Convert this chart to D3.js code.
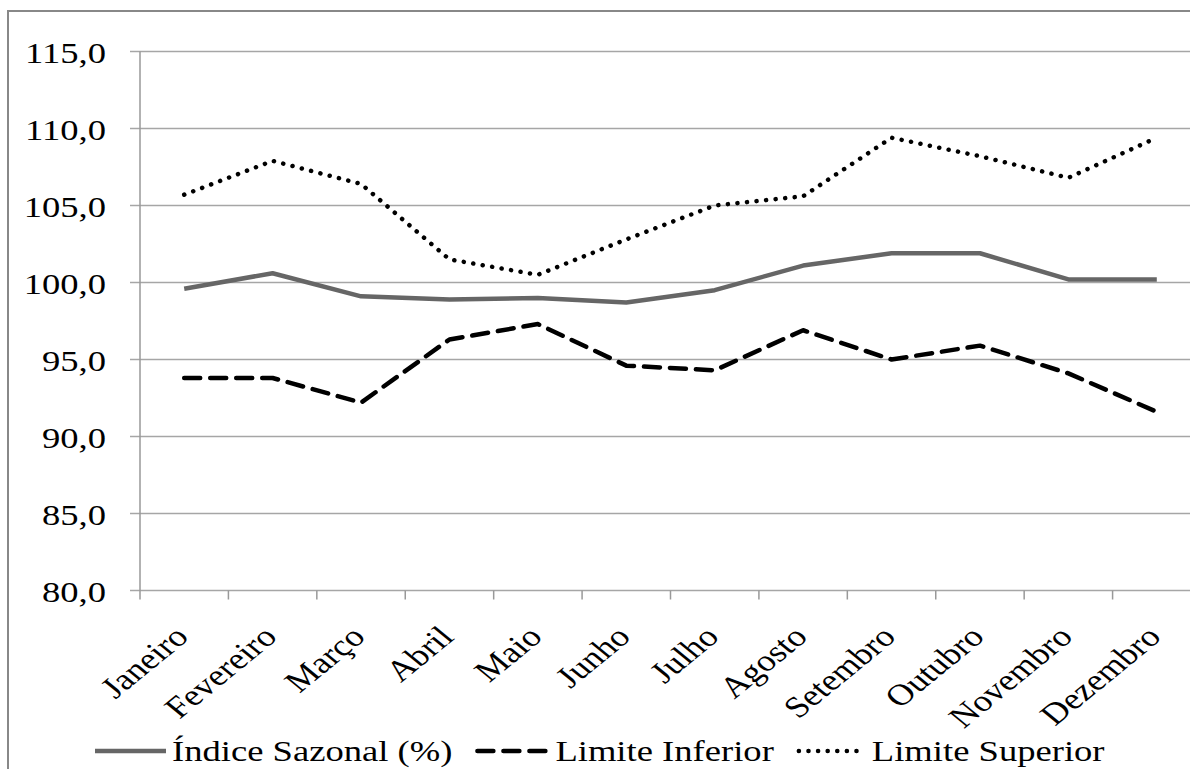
<!DOCTYPE html>
<html>
<head>
<meta charset="utf-8">
<style>
  body { margin: 0; background: #fff; }
  svg { display: block; }
</style>
</head>
<body>
<div id="chart"></div>
<script src="https://d3js.org/d3.v7.min.js"></script>
<script>
  // Months on the x axis
  const months = ['Janeiro', 'Fevereiro', 'Março', 'Abril', 'Maio', 'Junho',
    'Julho', 'Agosto', 'Setembro', 'Outubro', 'Novembro', 'Dezembro'];

  // Series values
  const indiceSazonal = [99.6, 100.6, 99.1, 98.9, 99.0, 98.7, 99.5, 101.1, 101.9, 101.9, 100.2, 100.2];
  const limiteInferior = [93.8, 93.8, 92.2, 96.3, 97.3, 94.6, 94.3, 96.9, 95.0, 95.9, 94.1, 91.6];
  const limiteSuperior = [105.7, 107.9, 106.4, 101.5, 100.5, 102.8, 105.0, 105.6, 109.4, 108.2, 106.8, 109.4];

  // Y ticks
  const yTicks = [80, 85, 90, 95, 100, 105, 110, 115];

  const width = 1190;
  const height = 769;
  const sx = 1.22; // the original picture is stretched sideways
  const font = 'Liberation Serif';

  const series = [
    { name: 'Índice Sazonal (%)', values: indiceSazonal, color: '#666', width: 4.5, dash: null, cap: 'butt' },
    { name: 'Limite Inferior', values: limiteInferior, color: '#000', width: 4.5, dash: '16,10', cap: 'round' },
    { name: 'Limite Superior', values: limiteSuperior, color: '#000', width: 4.5, dash: '0.1,9.5', cap: 'round' }
  ];

  const svg = d3.select('#chart')
    .append('svg')
    .attr('width', width)
    .attr('height', height)
    .attr('font-family', font);

  // outer frame (cut off on the right and bottom)
  svg.append('rect')
    .attr('x', 8).attr('y', 11)
    .attr('width', 1300).attr('height', 900)
    .attr('fill', 'none')
    .attr('stroke', '#888')
    .attr('stroke-width', 2);

  const x = d3.scaleBand()
    .domain(months)
    .range([140, 1201]);

  const y = d3.scaleLinear()
    .domain([80, 115])
    .range([590.5, 51.5]);

  // gridlines
  svg.append('g')
    .selectAll('line')
    .data(yTicks)
    .enter()
    .append('line')
    .attr('x1', 130)
    .attr('x2', 1201)
    .attr('y1', (d) => y(d))
    .attr('y2', (d) => y(d))
    .attr('stroke', '#a6a6a6')
    .attr('stroke-width', 1.5);

  // y axis line
  svg.append('line')
    .attr('x1', 140).attr('x2', 140)
    .attr('y1', y(115)).attr('y2', y(80))
    .attr('stroke', '#999')
    .attr('stroke-width', 1.5);

  // y tick labels
  const fmt = (v) => d3.format('.1f')(v).replace('.', ',');
  svg.append('g')
    .selectAll('text')
    .data(yTicks)
    .enter()
    .append('text')
    .attr('transform', (d) => `translate(106, ${y(d) + 11}) scale(${sx}, 1)`)
    .attr('text-anchor', 'end')
    .attr('font-family', font)
    .attr('font-size', 30)
    .text(fmt);

  // x ticks at band edges
  const edges = months.map((m) => x(m)).concat([x.range()[1]]);
  svg.append('g')
    .selectAll('line')
    .data(edges)
    .enter()
    .append('line')
    .attr('x1', (d) => d).attr('x2', (d) => d)
    .attr('y1', y(80)).attr('y2', y(80) + 9)
    .attr('stroke', '#999')
    .attr('stroke-width', 1.5);

  // x labels, rotated
  svg.append('g')
    .selectAll('text')
    .data(months)
    .enter()
    .append('text')
    .attr('transform', (d) => `translate(${x(d) + x.bandwidth() / 2 + 6}, ${y(80) + 48}) scale(${sx}, 1) rotate(-45)`)
    .attr('text-anchor', 'end')
    .attr('font-family', font)
    .attr('font-size', 30)
    .text((d) => d);

  // lines
  const line = d3.line()
    .x((d, i) => x(months[i]) + x.bandwidth() / 2)
    .y((d) => y(d));

  series.forEach((s) => {
    svg.append('path')
      .datum(s.values)
      .attr('fill', 'none')
      .attr('stroke', s.color)
      .attr('stroke-width', s.width)
      .attr('stroke-linecap', s.cap)
      .attr('stroke-linejoin', 'round')
      .attr('stroke-dasharray', s.dash)
      .attr('d', line);
  });

  // legend
  const legend = svg.append('g');
  const swatchLen = [71, 72, 67];
  let lx = 95;
  series.forEach((s, i) => {
    legend.append('line')
      .attr('x1', lx).attr('x2', lx + swatchLen[i])
      .attr('y1', 751).attr('y2', 751)
      .attr('stroke', s.color)
      .attr('stroke-width', s.width)
      .attr('stroke-linecap', s.cap)
      .attr('stroke-dasharray', s.dash);
    lx += swatchLen[i] + 6;
    const t = legend.append('text')
      .attr('transform', `translate(${lx}, 761) scale(${sx}, 1)`)
      .attr('font-family', font)
      .attr('font-size', 30)
      .text(s.name);
    lx += t.node().getComputedTextLength() * sx + 25;
  });
</script>
</body>
</html>
